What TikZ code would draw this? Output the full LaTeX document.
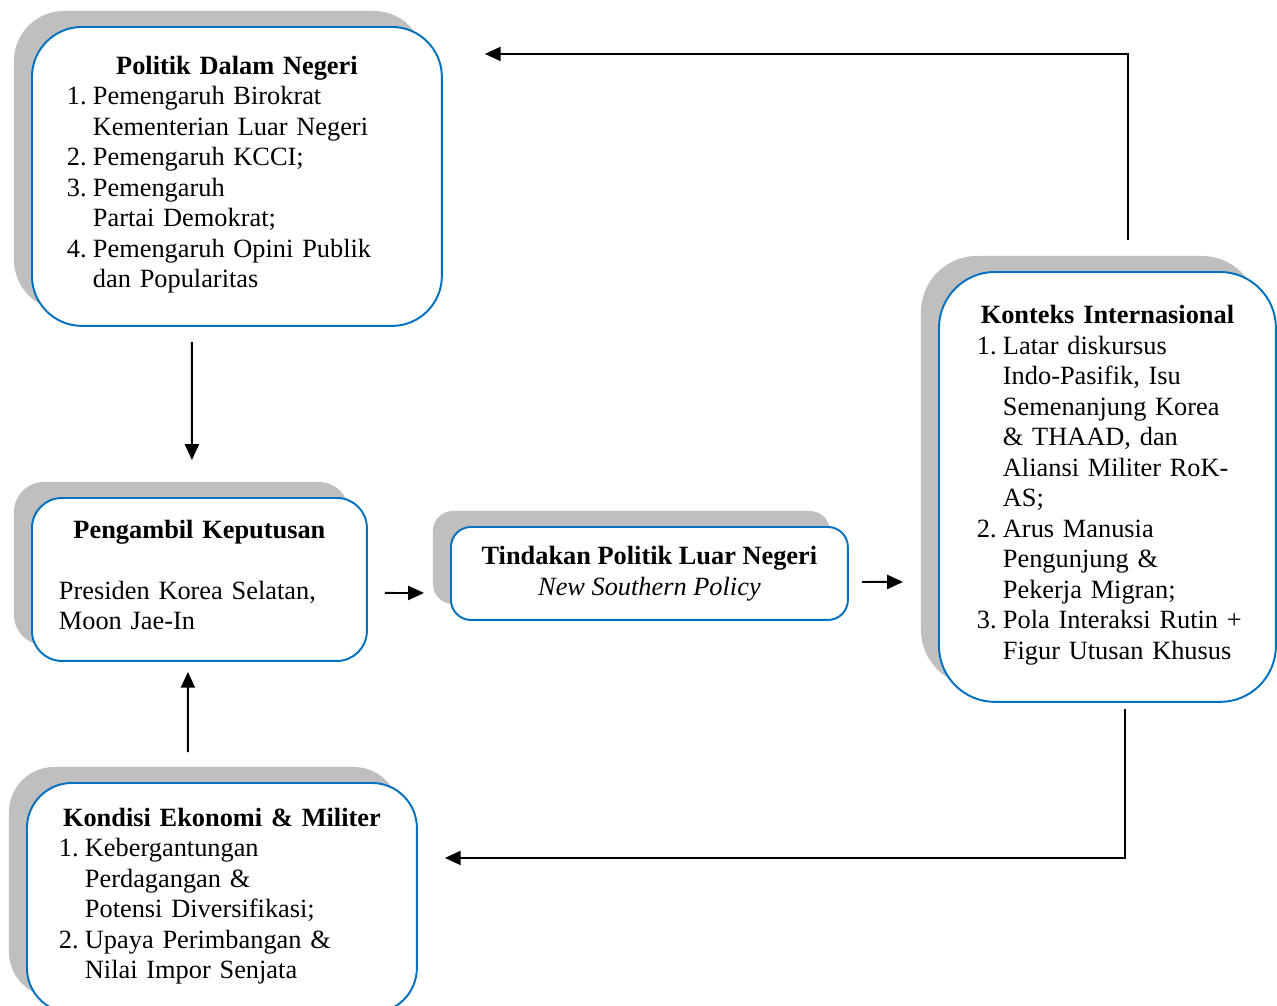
\documentclass[tikz,border=0pt]{standalone}
\usepackage{fontspec}
\setmainfont{Liberation Serif}
\usepackage{tikz}
\usetikzlibrary{calc}
\usetikzlibrary{arrows.meta}
\usetikzlibrary{shadows}

\definecolor{birugaris}{RGB}{0,112,192}

\tikzset{
    kotak/.style={draw=birugaris, line width=1.1pt, fill=white, anchor=north west, inner ysep=0pt,
        font=\fontsize{15}{17.35}\selectfont,
        drop shadow={shadow xshift=-0.36cm, shadow yshift=0.32cm, fill=black!25, opacity=1}},
    panah/.style={-{Triangle[length=9pt,width=8pt]}, line width=1.1pt}
}

\begin{document}
\begin{tikzpicture}[x=0.02cm, y=-0.02cm]
        \useasboundingbox (0,0) rectangle (1277,1005);

        % faktor dalam negeri
        \node (politik) at (31,26) [kotak, text width=6.8cm, inner xsep=0.7cm, minimum height=5.98cm, rounded corners=1cm]
            {{\centering\bfseries Politik Dalam Negeri\par}
             \noindent\begin{tabular}[t]{@{}p{0.52cm}@{}l@{}}
             1. & Pemengaruh Birokrat\\
                & Kementerian Luar Negeri\\
             2. & Pemengaruh KCCI;\\
             3. & Pemengaruh\\
                & Partai Demokrat;\\
             4. & Pemengaruh Opini Publik\\
                & dan Popularitas
             \end{tabular}};

        \node (pengambil) at (31,497) [kotak, text width=5.62cm, inner xsep=0.54cm, minimum height=3.26cm, rounded corners=0.6cm]
            {{\centering\bfseries Pengambil Keputusan\par}
             \noindent\begin{tabular}[t]{@{}l@{}}
             \\
             Presiden Korea Selatan,\\
             Moon Jae-In
             \end{tabular}};

        \node (kondisi) at (26,782) [kotak, text width=6.52cm, inner xsep=0.64cm, minimum height=4.6cm, rounded corners=0.9cm]
            {{\centering\bfseries Kondisi Ekonomi \& Militer\par}
             \noindent\begin{tabular}[t]{@{}p{0.52cm}@{}l@{}}
             1. & Kebergantungan\\
                & Perdagangan \&\\
                & Potensi Diversifikasi;\\
             2. & Upaya Perimbangan \&\\
                & Nilai Impor Senjata
             \end{tabular}};

        % keluaran
        \node (tindakan) at (450,526) [kotak, align=center, minimum width=7.94cm, minimum height=1.86cm, rounded corners=0.4cm]
            {{\bfseries Tindakan Politik Luar Negeri}\\\textit{New Southern Policy}};

        % faktor internasional
        \node (konteks) at (938,271) [kotak, text width=5.22cm, inner xsep=0.76cm, minimum height=8.6cm, rounded corners=1.12cm]
            {{\centering\bfseries Konteks Internasional\par}
             \noindent\begin{tabular}[t]{@{}p{0.52cm}@{}l@{}}
             1. & Latar diskursus\\
                & Indo-Pasifik, Isu\\
                & Semenanjung Korea\\
                & \& THAAD, dan\\
                & Aliansi Militer RoK-\\
                & AS;\\
             2. & Arus Manusia\\
                & Pengunjung \&\\
                & Pekerja Migran;\\
             3. & Pola Interaksi Rutin +\\
                & Figur Utusan Khusus
             \end{tabular}};

        \draw[panah] ([shift={(-45,15)}]politik.south) -- ([shift={(-7.5,-37)}]pengambil.north);
        \draw[panah] ([shift={(-34,-30)}]kondisi.north) -- ([shift={(-11.5,10)}]pengambil.south);
        \draw[panah] ([shift={(17,13.5)}]pengambil.east) -- ([shift={(-26,19.5)}]tindakan.west);
        \draw[panah] ([shift={(13,8.5)}]tindakan.east) -- ([shift={(-35,95)}]konteks.west);
        \draw[panah] ([shift={(20.5,-31)}]konteks.north) |- ([shift={(42,-122.5)}]politik.east);
        \draw[panah] ([shift={(17.5,6)}]konteks.south) |- ([shift={(27,-40)}]kondisi.east);
    \end{tikzpicture}
\end{document}
